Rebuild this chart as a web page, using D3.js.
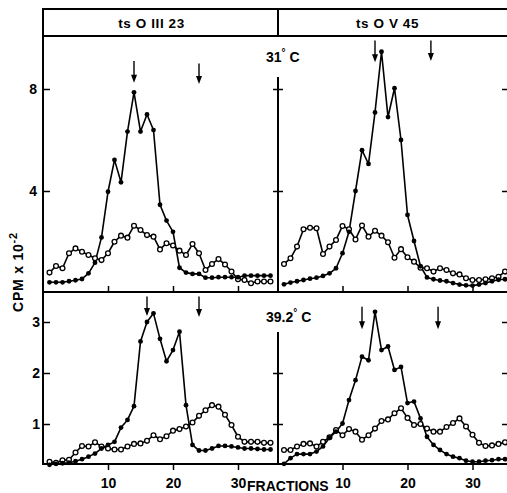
<!DOCTYPE html>
<html>
<head>
<meta charset="utf-8">
<script src="https://cdn.jsdelivr.net/npm/d3@7"></script>
<style>
  body { margin: 0; background: #fff; }
  svg { display: block; font-family: "Liberation Sans", Arial, sans-serif; font-weight: bold; }
</style>
</head>
<body>
<div id="chart"></div>
<script>
const fractions = [1, 2, 3, 4, 5, 6, 7, 8, 9, 10, 11, 12, 13, 14, 15, 16, 17, 18,
  19, 20, 21, 22, 23, 24, 25, 26, 27, 28, 29, 30, 31, 32, 33, 34, 35];

// ts O III 23, 31 C
const oIII23At31Filled = [0.42, 0.42, 0.42, 0.46, 0.50, 0.55, 0.77, 1.19, 2.18, 3.97, 5.22, 4.34,
  6.33, 7.87, 6.33, 7.0, 6.39, 3.46, 2.84, 2.40, 0.99, 0.80, 0.75, 0.75, 0.6, 0.6, 0.62, 0.62,
  0.62, 0.62, 0.68, 0.68, 0.68, 0.68, 0.68];
const oIII23At31Open = [0.8, 1.06, 0.97, 1.56, 1.75, 1.62, 1.49, 1.36, 1.29, 1.56, 2.01, 2.25,
  2.17, 2.64, 2.47, 2.27, 2.21, 1.71, 1.95, 1.86, 1.66, 1.49, 1.92, 1.56, 0.9, 1.14, 1.33, 1.12,
  0.84, 0.54, 0.51, 0.38, 0.45, 0.45, 0.45];

// ts O V 45, 31 C
const oV45At31Filled = [0.34, 0.41, 0.46, 0.51, 0.56, 0.6, 0.67, 0.77, 0.97, 1.56, 2.4, 4.0,
  5.6, 5.06, 7.08, 9.46, 6.9, 8.03, 6.0, 3.06, 2.04, 1.05, 0.61, 0.54, 0.49, 0.46, 0.39, 0.33,
  0.3, 0.29, 0.33, 0.39, 0.46, 0.52, 0.54];
const oV45At31Open = [1.14, 1.36, 1.82, 2.5, 2.56, 2.54, 1.53, 1.82, 2.08, 2.63, 2.5, 2.1,
  2.65, 2.21, 2.44, 2.25, 1.99, 1.38, 1.72, 1.4, 1.23, 0.99, 0.97, 0.84, 0.97, 0.9, 0.77, 0.73,
  0.58, 0.51, 0.51, 0.54, 0.58, 0.64, 0.84];

// ts O III 23, 39.2 C
const oIII23At39Filled = [0.2, 0.22, 0.23, 0.24, 0.27, 0.31, 0.36, 0.42, 0.52, 0.59, 0.65, 0.93,
  1.08, 1.35, 2.62, 3.0, 3.17, 2.67, 2.23, 2.45, 2.81, 1.37, 0.59, 0.48, 0.48, 0.52, 0.57, 0.57,
  0.56, 0.54, 0.52, 0.52, 0.51, 0.5, 0.5];
const oIII23At39Open = [0.26, 0.24, 0.29, 0.3, 0.44, 0.57, 0.56, 0.64, 0.56, 0.52, 0.5, 0.5,
  0.56, 0.61, 0.62, 0.67, 0.78, 0.7, 0.76, 0.87, 0.9, 0.95, 1.03, 1.16, 1.27, 1.37, 1.34, 1.18,
  0.98, 0.75, 0.65, 0.65, 0.65, 0.63, 0.63];

// ts O V 45, 39.2 C
const oV45At39Filled = [0.22, 0.33, 0.41, 0.41, 0.41, 0.46, 0.56, 0.73, 0.85, 1.01, 1.47, 1.86,
  2.32, 2.25, 3.2, 2.45, 2.52, 2.06, 2.12, 1.41, 1.44, 1.11, 0.75, 0.59, 0.49, 0.41, 0.36, 0.33,
  0.28, 0.26, 0.26, 0.28, 0.29, 0.31, 0.31];
const oV45At39Open = [0.49, 0.49, 0.56, 0.61, 0.62, 0.56, 0.65, 0.74, 0.88, 0.78, 0.9, 0.85,
  0.69, 0.78, 0.91, 1.06, 1.09, 1.21, 1.31, 1.12, 0.98, 1.0, 0.91, 0.85, 0.85, 0.94, 1.02, 1.11,
  0.95, 0.79, 0.63, 0.57, 0.58, 0.61, 0.64];

// marker arrows: fraction, top and tip (in CPM units)
const arrowsOIII23At31 = [{f: 14, from: 9.1, to: 8.25}, {f: 24, from: 9.0, to: 8.2}];
const arrowsOV45At31 = [{f: 15, from: 9.9, to: 9.05}, {f: 23.6, from: 9.9, to: 9.1}];
const arrowsOIII23At39 = [{f: 16, from: 3.5, to: 3.12}, {f: 24, from: 3.5, to: 3.1}];
const arrowsOV45At39 = [{f: 13, from: 3.3, to: 2.86}, {f: 24.7, from: 3.3, to: 2.86}];

const strainLabels = ['ts O III 23', 'ts O V 45'];
const xTicks = [10, 20, 30];
const upperTicks = [4, 8];
const lowerTicks = [1, 2, 3];
const lowerMidTicks = [1, 2];

const width = 507;
const height = 493;
const X0 = 43, XM = 278, XR = 507;
const HEAD_T = 9, HEAD_B = 36, MID_Y = 292, BOT_Y = 464;

const xLeft = d3.scaleLinear().domain([0, 10]).range([X0, X0 + 65]);
const xRight = d3.scaleLinear().domain([0, 10]).range([XM - 0.5, XM + 64.5]);
const yUpper = d3.scaleLinear().domain([0, 8]).range([293, 89]);
const yLower = d3.scaleLinear().domain([1, 3]).range([424, 322]);

const svg = d3.select('#chart')
  .append('svg')
  .attr('width', width)
  .attr('height', height);

svg.append('rect').attr('width', width).attr('height', height).attr('fill', '#fff');

const panels = [
  {x: xLeft, y: yUpper, filled: oIII23At31Filled, open: oIII23At31Open, arrows: arrowsOIII23At31},
  {x: xRight, y: yUpper, filled: oV45At31Filled, open: oV45At31Open, arrows: arrowsOV45At31},
  {x: xLeft, y: yLower, filled: oIII23At39Filled, open: oIII23At39Open, arrows: arrowsOIII23At39},
  {x: xRight, y: yLower, filled: oV45At39Filled, open: oV45At39Open, arrows: arrowsOV45At39},
];

function drawSeries(p) {
  const g = svg.append('g');
  const line = d3.line()
    .x((d, i) => p.x(fractions[i]))
    .y(d => p.y(d));

  [p.open, p.filled].forEach(values => {
    g.append('path')
      .datum(values)
      .attr('fill', 'none')
      .attr('stroke', '#000')
      .attr('stroke-width', 1.6)
      .attr('stroke-linejoin', 'round')
      .attr('d', line);
  });

  g.selectAll('.open-pt')
    .data(p.open)
    .join('circle')
    .attr('class', 'open-pt')
    .attr('cx', (d, i) => p.x(fractions[i]))
    .attr('cy', d => p.y(d))
    .attr('r', 2.4)
    .attr('fill', '#fff')
    .attr('stroke', '#000')
    .attr('stroke-width', 1.3);

  g.selectAll('.filled-pt')
    .data(p.filled)
    .join('circle')
    .attr('class', 'filled-pt')
    .attr('cx', (d, i) => p.x(fractions[i]))
    .attr('cy', d => p.y(d))
    .attr('r', 2.4)
    .attr('fill', '#000');

  p.arrows.forEach(a => {
    const ax = p.x(a.f);
    const y1 = p.y(a.from);
    const y2 = p.y(a.to);
    g.append('line')
      .attr('x1', ax).attr('x2', ax)
      .attr('y1', y1).attr('y2', y2 - 6)
      .attr('stroke', '#000')
      .attr('stroke-width', 1.4);
    g.append('path')
      .attr('d', `M${ax - 3},${y2 - 8} L${ax + 3},${y2 - 8} L${ax},${y2} Z`)
      .attr('fill', '#000');
  });
}

panels.forEach(drawSeries);

/* frame */
const frame = [
  [X0, HEAD_T, XR, HEAD_T],
  [X0, HEAD_B, XR, HEAD_B],
  [XM, HEAD_T, XM, HEAD_B],
  [X0, HEAD_T, X0, BOT_Y],
  [X0, MID_Y, XR, MID_Y],
  [X0, BOT_Y, XR, BOT_Y],
  [XM, 78, XM, MID_Y],
  [XM, 333, XM, BOT_Y],
];
svg.append('g')
  .selectAll('line')
  .data(frame)
  .join('line')
  .attr('x1', d => d[0]).attr('y1', d => d[1])
  .attr('x2', d => d[2]).attr('y2', d => d[3])
  .attr('stroke', '#000')
  .attr('stroke-width', 2)
  .attr('stroke-linecap', 'square');

/* axes */
function styleAxis(sel, noLabels) {
  sel.select('.domain').remove();
  sel.selectAll('line').attr('stroke', '#000').attr('stroke-width', 1.5);
  sel.selectAll('text')
    .attr('fill', '#000')
    .attr('font-size', 14)
    .attr('font-weight', 'bold')
    .attr('font-family', '"Liberation Sans", Arial, sans-serif');
  if (noLabels) sel.selectAll('text').remove();
}

// left y axes with labels
svg.append('g')
  .attr('transform', `translate(${X0},0)`)
  .call(d3.axisLeft(yUpper).tickValues(upperTicks).tickFormat(d3.format('d'))
    .tickSizeInner(-7).tickSizeOuter(0).tickPadding(6))
  .call(styleAxis);
svg.append('g')
  .attr('transform', `translate(${X0},0)`)
  .call(d3.axisLeft(yLower).tickValues(lowerTicks).tickFormat(d3.format('d'))
    .tickSizeInner(-7).tickSizeOuter(0).tickPadding(3))
  .call(styleAxis);

// crossing ticks on the right panel axis, inward ticks on the right edge
[[yUpper, upperTicks, upperTicks], [yLower, lowerMidTicks, lowerTicks]].forEach(([scale, mid, edge]) => {
  svg.append('g')
    .attr('transform', `translate(${XM},0)`)
    .call(d3.axisLeft(scale).tickValues(mid).tickSize(5))
    .call(styleAxis, true);
  svg.append('g')
    .attr('transform', `translate(${XM},0)`)
    .call(d3.axisRight(scale).tickValues(mid).tickSize(5))
    .call(styleAxis, true);
  svg.append('g')
    .attr('transform', `translate(${XR},0)`)
    .call(d3.axisLeft(scale).tickValues(edge).tickSize(5))
    .call(styleAxis, true);
});

// x axes
[xLeft, xRight].forEach(scale => {
  svg.append('g')
    .attr('transform', `translate(0,${MID_Y})`)
    .call(d3.axisTop(scale).tickValues(xTicks).tickSize(6))
    .call(styleAxis, true);
  svg.append('g')
    .attr('transform', `translate(0,${BOT_Y})`)
    .call(d3.axisBottom(scale).tickValues(xTicks).tickSize(6).tickPadding(8))
    .call(styleAxis);
});

/* texts */
const text = (x, y, str, size, anchor) => svg.append('text')
  .attr('x', x).attr('y', y)
  .attr('font-size', size)
  .attr('text-anchor', anchor || 'start')
  .attr('fill', '#000')
  .text(str);

text((X0 + XM) / 2 - 9, 28, strainLabels[0], 13.5, 'middle').attr('letter-spacing', 0.6);
text((XM + XR) / 2 - 5, 28, strainLabels[1], 13.5, 'middle').attr('letter-spacing', 0.6);

function tempLabel(x, y, num) {
  const t = text(x, y, '', 14);
  t.append('tspan').text(num);
  t.append('tspan').attr('dy', -6).attr('font-size', 10).text('°');
  t.append('tspan').attr('dy', 6).text(' C');
}
tempLabel(266, 62, '31');
tempLabel(266, 322, '39.2');

text(247, 491, 'FRACTIONS', 14);

const cpm = svg.append('text')
  .attr('transform', 'translate(23,272) rotate(-90)')
  .attr('text-anchor', 'middle')
  .attr('font-size', 14)
  .attr('letter-spacing', 0.8)
  .attr('fill', '#000');
cpm.append('tspan').text('CPM x 10');
cpm.append('tspan').attr('dy', -6).attr('font-size', 11).text('-2');
</script>
</body>
</html>
